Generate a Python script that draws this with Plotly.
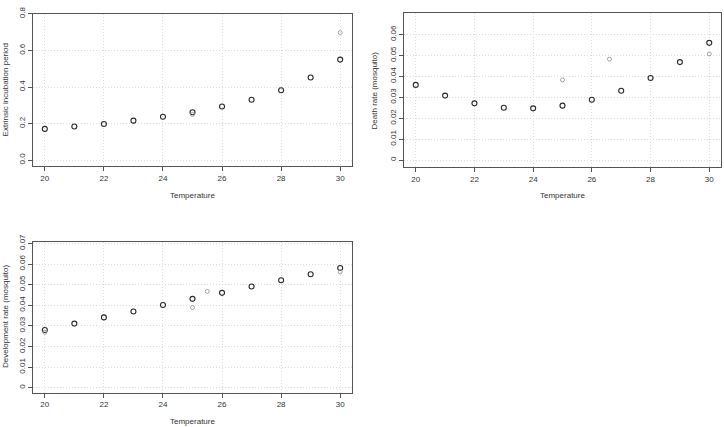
import plotly.graph_objects as go

# data
temp = [20, 21, 22, 23, 24, 25, 26, 27, 28, 29, 30]

eip_main = [0.171, 0.184, 0.198, 0.216, 0.237, 0.262, 0.293, 0.330, 0.382, 0.452, 0.550]
eip_obs_t = [25, 30]
eip_obs = [0.250, 0.698]

death_main = [0.0359, 0.0308, 0.0271, 0.0250, 0.0247, 0.0260, 0.0288, 0.0331, 0.0392, 0.0468, 0.0560]
death_obs_t = [25, 26.6, 30]
death_obs = [0.0383, 0.0482, 0.0507]

dev_main = [0.0280, 0.0311, 0.0341, 0.0370, 0.0401, 0.0431, 0.0460, 0.0491, 0.0521, 0.0550, 0.0581]
dev_obs_t = [20, 25, 25.5, 30]
dev_obs = [0.0269, 0.0389, 0.0467, 0.0562]

x_ticks = [20, 22, 24, 26, 28, 30]
eip_ticks = [0.0, 0.2, 0.4, 0.6, 0.8]
eip_ticktext = ["0.0", "0.2", "0.4", "0.6", "0.8"]
death_ticks = [0, 0.01, 0.02, 0.03, 0.04, 0.05, 0.06]
death_ticktext = ["0", "0.01", "0.02", "0.03", "0.04", "0.05", "0.06"]
dev_ticks = [0, 0.01, 0.02, 0.03, 0.04, 0.05, 0.06, 0.07]
dev_ticktext = ["0", "0.01", "0.02", "0.03", "0.04", "0.05", "0.06", "0.07"]

W, H = 724, 427
FONT = "Liberation Sans, Arial, sans-serif"

fig = go.Figure()

panels = [
    # (main, obs_t, obs, xaxis, yaxis)
    (eip_main, eip_obs_t, eip_obs, "x", "y"),
    (death_main, death_obs_t, death_obs, "x2", "y2"),
    (dev_main, dev_obs_t, dev_obs, "x3", "y3"),
]
for main, ot, ov, xa, ya in panels:
    fig.add_trace(go.Scatter(x=temp, y=main, mode="markers", xaxis=xa, yaxis=ya, showlegend=False,
                             marker=dict(symbol="circle-open", size=5, color="#2a2a2a", line=dict(width=1.1, color="#2a2a2a"))))
    fig.add_trace(go.Scatter(x=ot, y=ov, mode="markers", xaxis=xa, yaxis=ya, showlegend=False,
                             marker=dict(symbol="circle-open", size=4, color="#999", line=dict(width=0.9, color="#999"))))

def px_x(a, b): return [a / W, b / W]
def px_y(top, bot): return [1 - bot / H, 1 - top / H]

ax_common = dict(showline=True, linecolor="#555", linewidth=1, mirror=True, ticks="outside", ticklen=4,
                 tickcolor="#555", tickfont=dict(size=8, color="#333", family=FONT), showgrid=True,
                 gridcolor="#dcdcdc", griddash="1px,2px", gridwidth=1, zeroline=False)

fig.update_layout(
    width=W, height=H, margin=dict(l=0, r=0, t=0, b=0), paper_bgcolor="white", plot_bgcolor="white",
    font=dict(family=FONT, size=8, color="#333"),
    xaxis=dict(domain=px_x(33, 352), range=[19.6, 30.4], tickvals=x_ticks, anchor="y", **ax_common),
    yaxis=dict(domain=px_y(6, 161), range=[-0.032, 0.8], tickvals=eip_ticks, ticktext=eip_ticktext,
               tickangle=-90, anchor="x", **ax_common),
    xaxis2=dict(domain=px_x(404, 721), range=[19.6, 30.4], tickvals=x_ticks, anchor="y2", **ax_common),
    yaxis2=dict(domain=px_y(5, 162), range=[-0.0033, 0.0703], tickvals=death_ticks, ticktext=death_ticktext,
                tickangle=-90, anchor="x2", **ax_common),
    xaxis3=dict(domain=px_x(33, 352), range=[19.6, 30.4], tickvals=x_ticks, anchor="y3", **ax_common),
    yaxis3=dict(domain=px_y(238, 392), range=[-0.0024, 0.0709], tickvals=dev_ticks, ticktext=dev_ticktext,
                tickangle=-90, anchor="x3", **ax_common),
)

# axis titles
titles = [
    ("Temperature", 192 / W, 1 - 191 / H, 0),
    ("Temperature", 562 / W, 1 - 191 / H, 0),
    ("Temperature", 192 / W, 1 - 421 / H, 0),
    ("Extrinsic incubation period", 5 / W, 1 - 84 / H, -90),
    ("Death rate (mosquito)", 374 / W, 1 - 84 / H, -90),
    ("Development rate (mosquito)", 5 / W, 1 - 315 / H, -90),
]
for txt, x, y, ang in titles:
    fig.add_annotation(text=txt, x=x, y=y, xref="paper", yref="paper", showarrow=False, textangle=ang,
                       xanchor="center", yanchor="middle", font=dict(size=8, color="#333", family=FONT))

fig.write_html("out.html", config={"displayModeBar": False},
               post_script="document.body.style.margin='0';document.body.style.overflow='hidden';")
